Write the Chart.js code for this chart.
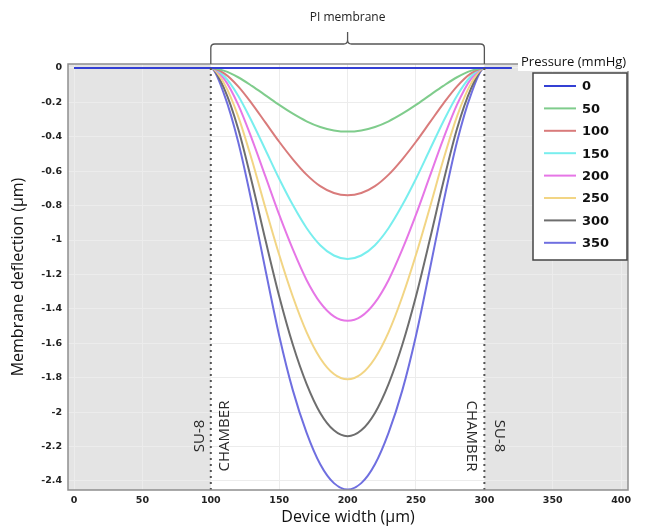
<!DOCTYPE html>
<html>
<head>
<meta charset="utf-8">
<script src="https://cdn.jsdelivr.net/npm/chart.js@4.4.0/dist/chart.umd.min.js"></script>
<style>
  html, body { margin: 0; padding: 0; background: #fff; }
  #wrap { width: 649px; height: 528px; }
</style>
</head>
<body>
<div id="wrap"><canvas id="chart" width="649" height="528"></canvas></div>
<script>
// device width positions (um)
const xs = [0, 50, 100, 110, 120, 130, 140, 150, 160, 170, 180, 190, 200, 210, 220, 230, 240, 250, 260, 270, 280, 290, 300, 320];

// membrane deflection (um) for each pressure
const p0 = [0, 0, 0, 0, 0, 0, 0, 0, 0, 0, 0, 0, 0, 0, 0, 0, 0, 0, 0, 0, 0, 0, 0, 0];
const p50 = [0, 0, 0, -0.017, -0.054, -0.104, -0.159, -0.215, -0.266, -0.31, -0.343, -0.363, -0.37, -0.363, -0.343, -0.31, -0.266, -0.215, -0.159, -0.104, -0.054, -0.017, 0, 0];
const p100 = [0, 0, 0, -0.033, -0.107, -0.207, -0.318, -0.429, -0.531, -0.62, -0.687, -0.727, -0.74, -0.727, -0.687, -0.62, -0.531, -0.429, -0.318, -0.207, -0.107, -0.033, 0, 0];
const p150 = [0, 0, 0, -0.05, -0.161, -0.311, -0.477, -0.644, -0.797, -0.93, -1.03, -1.09, -1.11, -1.09, -1.03, -0.93, -0.797, -0.644, -0.477, -0.311, -0.161, -0.05, 0, 0];
const p200 = [0, 0, 0, -0.066, -0.213, -0.412, -0.632, -0.853, -1.055, -1.232, -1.364, -1.444, -1.47, -1.444, -1.364, -1.232, -1.055, -0.853, -0.632, -0.412, -0.213, -0.066, 0, 0];
const p250 = [0, 0, 0, -0.094, -0.281, -0.534, -0.815, -1.086, -1.33, -1.535, -1.687, -1.779, -1.81, -1.779, -1.687, -1.535, -1.33, -1.086, -0.815, -0.534, -0.281, -0.094, 0, 0];
const p300 = [0, 0, 0, -0.124, -0.353, -0.663, -1.002, -1.327, -1.609, -1.836, -2.005, -2.106, -2.14, -2.106, -2.005, -1.836, -1.609, -1.327, -1.002, -0.663, -0.353, -0.124, 0, 0];
const p350 = [0, 0, 0, -0.159, -0.429, -0.784, -1.176, -1.556, -1.874, -2.119, -2.303, -2.413, -2.45, -2.413, -2.303, -2.119, -1.874, -1.556, -1.176, -0.784, -0.429, -0.159, 0, 0];

const pressures = ["0", "50", "100", "150", "200", "250", "300", "350"];
const series = [p0, p50, p100, p150, p200, p250, p300, p350];
const colors = ["#3440d4", "#7fcc8c", "#d97b7b", "#78eeee", "#e676e6", "#f2d584", "#6e6e6e", "#6f6fe0"];

const xTicks = [0, 50, 100, 150, 200, 250, 300, 350, 400];
const yTicks = [0, -0.2, -0.4, -0.6, -0.8, -1, -1.2, -1.4, -1.6, -1.8, -2, -2.2, -2.4];

const chamberLeft = 100;
const chamberRight = 300;

const datasets = series.map((vals, i) => ({
  label: pressures[i],
  data: vals.map((v, j) => ({ x: xs[j], y: v })),
  borderColor: colors[i],
  borderWidth: 2,
  pointRadius: 0,
  cubicInterpolationMode: "monotone",
  fill: false,
}));

// shading, frame, dotted lines, bracket, labels, legend
const decor = {
  id: "decor",
  beforeDraw(chart) {
    const ctx = chart.ctx;
    const a = chart.chartArea;
    const x = chart.scales.x;
    ctx.save();
    ctx.fillStyle = "#fff";
    ctx.fillRect(0, 0, chart.width, chart.height);
    ctx.fillStyle = "#e4e4e4";
    const l = x.getPixelForValue(chamberLeft);
    const r = x.getPixelForValue(chamberRight);
    ctx.fillRect(a.left, a.top, l - a.left, a.bottom - a.top);
    ctx.fillRect(r, a.top, a.right - r, a.bottom - a.top);
    ctx.restore();
  },
  afterDatasetsDraw(chart) {
    const ctx = chart.ctx;
    const a = chart.chartArea;
    const x = chart.scales.x;
    const l = x.getPixelForValue(chamberLeft);
    const r = x.getPixelForValue(chamberRight);
    ctx.save();

    // dotted chamber walls
    ctx.strokeStyle = "#555";
    ctx.lineWidth = 2;
    ctx.setLineDash([2, 4]);
    [l, r].forEach((px) => {
      ctx.beginPath();
      ctx.moveTo(px, a.top + 4);
      ctx.lineTo(px, a.bottom);
      ctx.stroke();
    });
    ctx.setLineDash([]);

    // frame
    ctx.strokeStyle = "#8e8e8e";
    ctx.lineWidth = 1.5;
    ctx.strokeRect(a.left, a.top, a.right - a.left, a.bottom - a.top);

    // bracket
    const mid = (l + r) / 2;
    ctx.strokeStyle = "#555";
    ctx.lineWidth = 1.3;
    ctx.beginPath();
    ctx.moveTo(l, a.top);
    ctx.lineTo(l, 48);
    ctx.quadraticCurveTo(l, 44, l + 4, 44);
    ctx.lineTo(mid - 4, 44);
    ctx.quadraticCurveTo(mid, 44, mid, 40);
    ctx.lineTo(mid, 32);
    ctx.moveTo(mid, 40);
    ctx.quadraticCurveTo(mid, 44, mid + 4, 44);
    ctx.lineTo(r - 4, 44);
    ctx.quadraticCurveTo(r, 44, r, 48);
    ctx.lineTo(r, a.top);
    ctx.stroke();

    ctx.fillStyle = "#222";
    ctx.font = "12px 'Open Sans'";
    ctx.textAlign = "center";
    ctx.textBaseline = "middle";
    ctx.fillText("PI membrane", mid, 18);

    // SU-8 / CHAMBER labels
    ctx.font = "15px 'Open Sans'";
    ctx.fillStyle = "#2a2a2a";
    const midY = 436;
    const labels = [
      ["SU-8", l - 11, -1],
      ["CHAMBER", l + 14, -1],
      ["CHAMBER", r - 13, 1],
      ["SU-8", r + 15, 1],
    ];
    labels.forEach(([txt, px, dir]) => {
      ctx.save();
      ctx.translate(px, midY);
      ctx.rotate(dir * Math.PI / 2);
      ctx.fillText(txt, 0, 0);
      ctx.restore();
    });

    // axis titles
    ctx.fillStyle = "#111";
    ctx.font = "16px 'Open Sans'";
    ctx.fillText("Device width (\u00b5m)", (a.left + a.right) / 2, 517);
    ctx.save();
    ctx.translate(18, (a.top + a.bottom) / 2);
    ctx.rotate(-Math.PI / 2);
    ctx.fillText("Membrane deflection (\u00b5m)", 0, 0);
    ctx.restore();

    // legend title
    ctx.font = "13px 'Open Sans'";
    ctx.textAlign = "left";
    const tw = ctx.measureText("Pressure (mmHg)").width;
    ctx.fillStyle = "#fff";
    ctx.fillRect(518, 54, tw + 6, 17);
    ctx.fillStyle = "#111";
    ctx.fillText("Pressure (mmHg)", 521, 62);

    // legend box
    const bx = 533, by = 73, bw = 94, bh = 187;
    ctx.fillStyle = "#fff";
    ctx.fillRect(bx, by, bw, bh);
    ctx.strokeStyle = "#444";
    ctx.lineWidth = 1.5;
    ctx.strokeRect(bx, by, bw, bh);
    ctx.font = "bold 13px 'DejaVu Sans'";
    pressures.forEach((p, i) => {
      const y = 86 + i * 22.4;
      ctx.strokeStyle = colors[i];
      ctx.lineWidth = 2;
      ctx.beginPath();
      ctx.moveTo(544, y);
      ctx.lineTo(576, y);
      ctx.stroke();
      ctx.fillStyle = "#111";
      ctx.fillText(p, 582, y + 1);
    });

    ctx.restore();
  },
};

const ctx = document.getElementById("chart").getContext("2d");
new Chart(ctx, {
  type: "line",
  data: { datasets: datasets },
  options: {
    responsive: false,
    animation: false,
    layout: { padding: { top: 64, right: 21, left: 0, bottom: 0 } },
    plugins: { legend: { display: false }, tooltip: { enabled: false } },
    scales: {
      x: {
        type: "linear",
        min: -4.4,
        max: 405,
        afterFit: (s) => { s.height = 38; },
        afterBuildTicks: (s) => { s.ticks = xTicks.map((v) => ({ value: v })); },
        grid: { color: "#ececec", drawTicks: false, lineWidth: 1 },
        border: { display: false },
        ticks: {
          padding: 5,
          color: "#222",
          font: { family: "'DejaVu Sans'", size: 9.5, weight: "bold" },
          maxRotation: 0,
        },
      },
      y: {
        type: "linear",
        min: -2.453,
        max: 0.023,
        afterFit: (s) => { s.width = 68; },
        afterBuildTicks: (s) => { s.ticks = yTicks.map((v) => ({ value: v })); },
        grid: { color: "#ececec", drawTicks: false, lineWidth: 1 },
        border: { display: false },
        ticks: {
          padding: 6,
          color: "#222",
          font: { family: "'DejaVu Sans'", size: 9.5, weight: "bold" },
          callback: (v) => String(Math.round(v * 10) / 10),
        },
      },
    },
  },
  plugins: [decor],
});
</script>
</body>
</html>
